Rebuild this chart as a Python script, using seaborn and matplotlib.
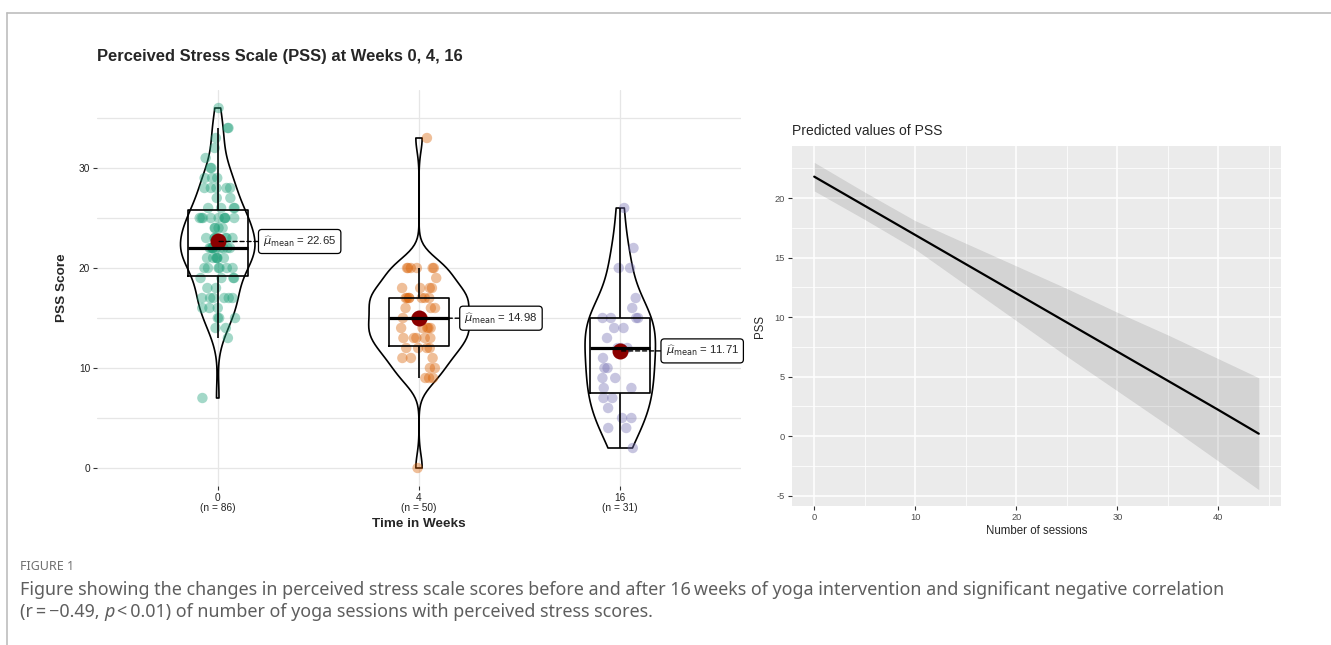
import numpy as np
import pandas as pd
import matplotlib.pyplot as plt
import seaborn as sns
from matplotlib.lines import Line2D

week0_scores = [7, 13, 14, 15, 16, 17, 18, 19, 20, 21, 22, 23, 24, 25, 26, 27, 28, 29, 30, 31, 32, 33, 34, 36]
week0_counts = [1, 1, 2, 3, 3, 6, 2, 4, 6, 6, 10, 7, 4, 9, 4, 2, 5, 3, 2, 1, 1, 1, 2, 1]
week4_scores = [0, 9, 10, 11, 12, 13, 14, 15, 16, 17, 18, 19, 20, 33]
week4_counts = [1, 3, 2, 3, 4, 5, 5, 5, 3, 7, 4, 1, 6, 1]
week16_scores = [2, 4, 5, 6, 7, 8, 9, 10, 11, 12, 13, 14, 15, 16, 17, 20, 22, 26]
week16_counts = [1, 2, 2, 1, 2, 2, 2, 2, 1, 3, 1, 2, 4, 1, 1, 2, 1, 1]
weeks = ['0', '4', '16']

# predicted PSS by number of yoga sessions (line and 95% band)
sessions = [0, 5, 10, 15, 20, 25, 30, 35, 40, 44]
pss_pred = [21.8, 19.35, 16.9, 14.45, 12.0, 9.55, 7.1, 4.65, 2.2, 0.2]
pss_low = [20.6, 18.2, 15.7, 12.7, 9.7, 6.7, 3.8, 0.9, -2.1, -4.5]
pss_high = [23.0, 20.5, 18.1, 16.2, 14.3, 12.4, 10.4, 8.5, 6.5, 4.9]

sns.set_theme(style='white')
FONT = ['Liberation Sans', 'DejaVu Sans']
plt.rcParams['font.family'] = FONT
plt.rcParams['axes.unicode_minus'] = False
np.random.seed(7)  # only for the horizontal jitter of the points

df = pd.DataFrame({
    'week': (['0'] * sum(week0_counts) + ['4'] * sum(week4_counts) + ['16'] * sum(week16_counts)),
    'score': np.concatenate([np.repeat(week0_scores, week0_counts),
                             np.repeat(week4_scores, week4_counts),
                             np.repeat(week16_scores, week16_counts)]).astype(float),
})
dark2 = ['#1B9E77', '#D95F02', '#7570B3']

W, H = 1331, 645
fig = plt.figure(figsize=(W / 100, H / 100), dpi=100)
fig.patch.set_facecolor('white')

# ---------------- left panel: violin + box + points ----------------
ax = fig.add_axes([97 / W, 1 - 486 / H, 644 / W, 396 / H])
ax.set_facecolor('white')

sns.stripplot(data=df, x='week', y='score', order=weeks, hue='week', hue_order=weeks,
              palette=dark2, jitter=0.09, size=7.5, alpha=0.4, linewidth=0,
              legend=False, ax=ax, zorder=2)
sns.boxplot(data=df, x='week', y='score', order=weeks, width=0.3, fill=False,
            color='black', linewidth=1.2, showfliers=False, showcaps=False,
            medianprops={'linewidth': 2.3}, ax=ax, zorder=3)
# one violin per week so each gets its own width / bandwidth (area scaling, nrd0-like)
violin_widths = [0.37, 0.5, 0.35]
bw_adjusts = [0.82, 0.64, 0.9]
for wk, vw, bw in zip(weeks, violin_widths, bw_adjusts):
    sns.violinplot(data=df[df['week'] == wk], x='week', y='score', order=weeks,
                   width=vw, bw_adjust=bw, cut=0, inner=None, fill=False,
                   color='black', linewidth=1.2, density_norm='width', ax=ax)
sns.pointplot(data=df, x='week', y='score', order=weeks, estimator='mean', errorbar=None,
              color='#8B0000', markers='o', linestyle='none', markersize=9.5, ax=ax)

stats = df.groupby('week', sort=False)['score'].agg(['mean', 'count']).reindex(weeks)
for i, wk in enumerate(weeks):
    m = stats.loc[wk, 'mean']
    ax.annotate(r'$\widehat{\mu}_{\mathrm{mean}}$' + f' = {m:.2f}', xy=(i, m), xytext=(i + 0.225, m),
                ha='left', va='center', fontsize=8.2, zorder=6,
                bbox=dict(boxstyle='round,pad=0.4,rounding_size=0.3', fc='white', ec='black', lw=0.9),
                arrowprops=dict(arrowstyle='-', ls=(0, (3, 2)), lw=1.0, color='black',
                                shrinkA=0, shrinkB=0))

ymin, ymax = df['score'].min(), df['score'].max()
pad = 0.05 * (ymax - ymin)
ax.set_ylim(ymin - pad, ymax + pad)
ax.set_xlim(-0.6, len(weeks) - 0.4)
ax.set_yticks([0, 10, 20, 30])
ax.set_yticks([5, 15, 25, 35], minor=True)
ax.set_xticks(range(len(weeks)))
ax.set_xticklabels([f'{wk}\n(n = {int(stats.loc[wk, "count"])})' for wk in weeks],
                   fontsize=7.3, linespacing=1.05)
ax.grid(True, which='both', axis='y', color='#E6E6E6', lw=0.9)
ax.grid(True, which='major', axis='x', color='#E6E6E6', lw=0.9)
ax.set_axisbelow(True)
for s in ax.spines.values():
    s.set_visible(False)
ax.tick_params(axis='both', which='major', length=3, width=0.8, color='#333333',
               labelsize=7.3, labelcolor='#222222', pad=2, bottom=True, left=True)
ax.tick_params(axis='y', which='minor', length=0)
ax.set_xlabel('Time in Weeks', fontsize=9.7, fontweight='bold', labelpad=3)
ax.set_ylabel('PSS Score', fontsize=9.7, fontweight='bold', labelpad=8)
fig.text(97 / W, 1 - 57 / H, 'Perceived Stress Scale (PSS) at Weeks 0, 4, 16',
         fontsize=11.85, fontweight='bold', va='center', ha='left')

# ---------------- right panel: predicted values ----------------
ax2 = fig.add_axes([792 / W, 1 - 506 / H, 489 / W, 360 / H])
ax2.set_facecolor('#EBEBEB')
ax2.fill_between(sessions, pss_low, pss_high, color='black', alpha=0.1, lw=0)
sns.lineplot(x=sessions, y=pss_pred, color='black', lw=1.6, ax=ax2)
xr = max(sessions) - min(sessions)
ax2.set_xlim(min(sessions) - 0.05 * xr, max(sessions) + 0.05 * xr)
yr = max(pss_high) - min(pss_low)
ax2.set_ylim(min(pss_low) - 0.05 * yr, max(pss_high) + 0.05 * yr)
ax2.set_xticks([0, 10, 20, 30, 40])
ax2.set_xticks([5, 15, 25, 35, 45], minor=True)
ax2.set_yticks([-5, 0, 5, 10, 15, 20])
ax2.set_yticks([-2.5, 2.5, 7.5, 12.5, 17.5, 22.5], minor=True)
ax2.grid(True, which='major', color='white', lw=1.1)
ax2.grid(True, which='minor', color='white', lw=0.55)
ax2.set_axisbelow(True)
for s in ax2.spines.values():
    s.set_visible(False)
ax2.tick_params(axis='both', which='major', length=3, width=0.8, color='#333333',
                labelsize=6.7, labelcolor='#4D4D4D', pad=2, bottom=True, left=True)
ax2.tick_params(axis='both', which='minor', length=0)
ax2.set_xlabel('Number of sessions', fontsize=8.3, labelpad=2)
ax2.set_ylabel('PSS', fontsize=8.3, labelpad=6)
fig.text(792 / W, 1 - 131 / H, 'Predicted values of PSS', fontsize=10, va='center', ha='left')

# ---------------- page frame and caption ----------------
fig.add_artist(Line2D([7 / W, 1], [1 - 13 / H, 1 - 13 / H], color='#BDBDBD', lw=1.2))
fig.add_artist(Line2D([7 / W, 7 / W], [0, 1 - 13 / H], color='#BDBDBD', lw=1.2))

CAP = ['Noto Sans', 'DejaVu Sans']
cap_color = '#5E5E5E'
fig.text(20 / W, 1 - 566 / H, 'FIGURE 1', fontsize=9, color='#707070', family=CAP, va='center')
fig.text(20 / W, 1 - 590 / H,
         'Figure showing the changes in perceived stress scale scores before and after 16\u2009weeks '
         'of yoga intervention and significant negative correlation',
         fontsize=12.9, color=cap_color, family=CAP, va='center')
fig.canvas.draw()
renderer = fig.canvas.get_renderer()
x0 = 20
for piece, style in [('(r\u2009=\u2009\u22120.49, ', 'normal'), ('p', 'italic'),
                     ('\u2009<\u20090.01) of number of yoga sessions with perceived stress scores.', 'normal')]:
    t = fig.text(x0 / W, 1 - 612 / H, piece, fontsize=12.9, color=cap_color, family=CAP,
                 style=style, va='center')
    bb = t.get_window_extent(renderer)
    x0 = bb.x1

fig.savefig('out.png', dpi=100)
